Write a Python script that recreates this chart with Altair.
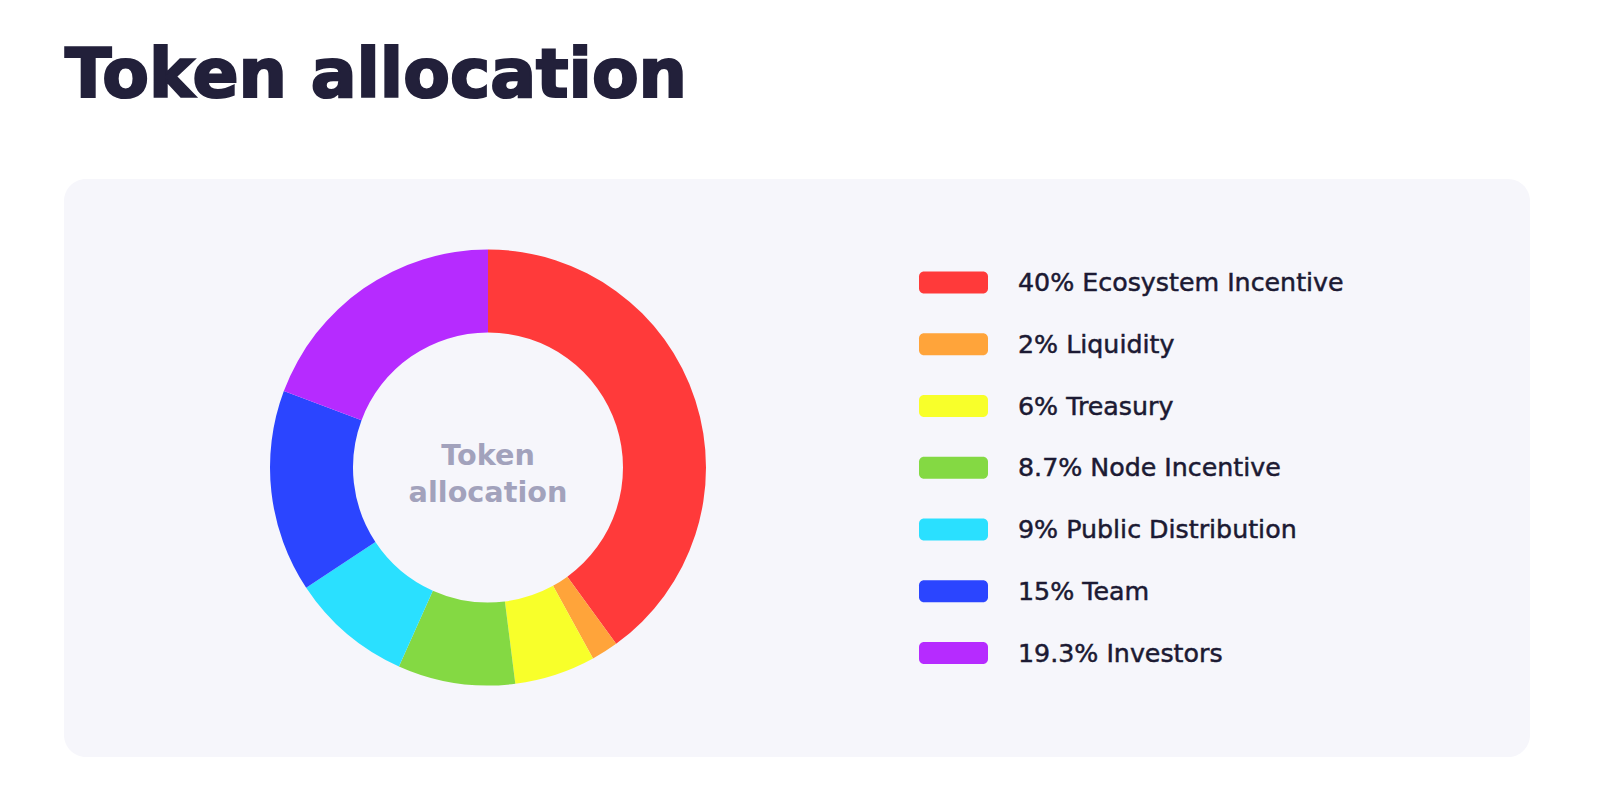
import altair as alt
import pandas as pd

# ---- data ----
categories = ["Ecosystem Incentive", "Liquidity", "Treasury", "Node Incentive",
              "Public Distribution", "Team", "Investors"]
values = [40, 2, 6, 8.7, 9, 15, 19.3]
labels = ["40% Ecosystem Incentive", "2% Liquidity", "6% Treasury",
          "8.7% Node Incentive", "9% Public Distribution", "15% Team",
          "19.3% Investors"]
colors = ["#ff3a3a", "#ffa43a", "#f8ff2a", "#84d943", "#2ae0ff", "#2b45ff", "#b62bff"]
title_text = "Token allocation"
center_text = ["Token", "allocation"]

df = pd.DataFrame({
    "category": categories,
    "value": values,
    "label": labels,
    "idx": list(range(len(categories))),
})

color_scale = alt.Scale(domain=categories, range=colors)
one = pd.DataFrame({"a": [0]})
FONT = "DejaVu Sans"

panel = alt.Chart(one).mark_rect(cornerRadius=22, color="#f6f6fb").encode(
    x=alt.value(64), x2=alt.value(1530), y=alt.value(179), y2=alt.value(757)
)

title = alt.Chart(one).mark_text(
    text=title_text, font=FONT, fontSize=68, fontWeight="bold",
    color="#22203a", stroke="#22203a", strokeWidth=2.2,
    align="left", baseline="alphabetic"
).encode(x=alt.value(65), y=alt.value(97))

donut = alt.Chart(df).mark_arc(radius=218, radius2=135, stroke=None).encode(
    theta=alt.Theta("value:Q", stack=True, scale=alt.Scale(domain=[0, 100])),
    order=alt.Order("idx:Q"),
    color=alt.Color("category:N", scale=color_scale, legend=None),
    x=alt.value(488), y=alt.value(467.5),
)

center = alt.Chart(one).mark_text(
    text=center_text, font=FONT, fontSize=28.7, fontWeight="bold",
    color="#a2a2bc", align="center", baseline="alphabetic", lineHeight=37
).encode(x=alt.value(488), y=alt.value(465))

ly = alt.Y("idx:Q", scale=alt.Scale(domain=[0, 6], range=[282.5, 653]), axis=None)

swatches = alt.Chart(df).mark_rect(cornerRadius=5, yOffset=-11, y2Offset=11).encode(
    y=ly, y2="idx:Q",
    x=alt.value(919), x2=alt.value(988),
    color=alt.Color("category:N", scale=color_scale, legend=None),
)

legend_text = alt.Chart(df).mark_text(
    font=FONT, fontSize=25.3, fontWeight="normal", color="#1c1a33",
    stroke="#1c1a33", strokeWidth=0.5,
    align="left", baseline="alphabetic"
).encode(
    y=ly, x=alt.value(1018), text="label:N", yOffset=alt.value(8.5)
)

chart = alt.layer(panel, title, donut, center, swatches, legend_text).properties(
    width=1600, height=797, autosize="none", padding=0, background="white"
).configure_view(stroke=None)

chart.save("out.html", embed_options={"renderer": "svg", "actions": False})
